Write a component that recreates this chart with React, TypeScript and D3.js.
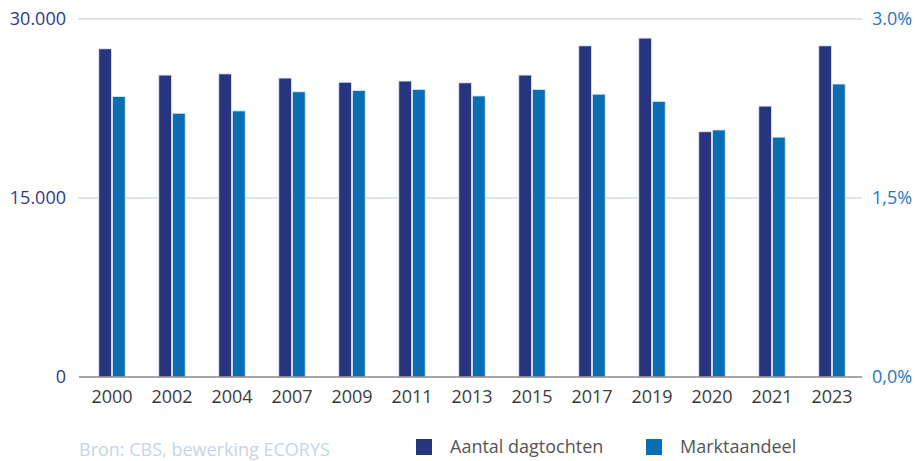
import { useEffect, useRef } from 'react';
import * as d3 from 'd3';

const width = 915;
const height = 461;
const [mt, mr, mb, ml] = [19, 53, 84, 82];
const plotRight = width - mr;
const plotBottom = height - mb;

const years = ['2000', '2002', '2004', '2007', '2009', '2011', '2013', '2015', '2017', '2019', '2020', '2021', '2023'];
const dagtochten = [27500, 25300, 25400, 25050, 24700, 24800, 24650, 25300, 27750, 28400, 20550, 22700, 27750];
const marktaandeel = [2.35, 2.21, 2.23, 2.39, 2.40, 2.41, 2.355, 2.41, 2.37, 2.31, 2.07, 2.01, 2.455];
const leftTicks = [0, 15000, 30000];
const leftTickLabels = ['0', '15.000', '30.000'];
const rightTickLabels = ['0,0%', '1,5%', '3.0%'];

const dark = '#27357e';
const light = '#0a6eb4';
const font = '"Open Sans", sans-serif';
const fs = 18;

export default function App() {
    const ref = useRef<SVGSVGElement>(null);

    useEffect(() => {
        const svg = d3.select(ref.current);
        svg.selectAll('*').remove();

        const x = d3.scaleBand().domain(years).range([ml, plotRight]).paddingInner(0.56).paddingOuter(0.28);
        const yl = d3.scaleLinear().domain([0, 30000]).range([plotBottom, mt]);
        const yr = d3.scaleLinear().domain([0, 3]).range([plotBottom, mt]);

        // gridlines
        svg.append('g')
            .selectAll('line')
            .data(leftTicks.slice(1))
            .join('line')
            .attr('x1', 78)
            .attr('x2', plotRight)
            .attr('y1', (d) => yl(d))
            .attr('y2', (d) => yl(d))
            .attr('stroke', '#d3dbe2')
            .attr('stroke-width', 1.5);

        const bw = x.bandwidth() / 2 - 0.5;

        svg.append('g')
            .selectAll('rect')
            .data(years)
            .join('rect')
            .attr('x', (d) => x(d)!)
            .attr('y', (_d, i) => yl(dagtochten[i]))
            .attr('width', bw)
            .attr('height', (_d, i) => plotBottom - yl(dagtochten[i]))
            .attr('fill', dark)
            .attr('stroke', '#e4e8f2')
            .attr('stroke-width', 0.8);

        svg.append('g')
            .selectAll('rect')
            .data(years)
            .join('rect')
            .attr('x', (d) => x(d)! + bw + 1)
            .attr('y', (_d, i) => yr(marktaandeel[i]))
            .attr('width', bw)
            .attr('height', (_d, i) => plotBottom - yr(marktaandeel[i]))
            .attr('fill', light)
            .attr('stroke', '#dfe9f4')
            .attr('stroke-width', 0.8);

        // baseline
        svg.append('line')
            .attr('x1', 79)
            .attr('x2', plotRight)
            .attr('y1', plotBottom)
            .attr('y2', plotBottom)
            .attr('stroke', '#8a8a8a')
            .attr('stroke-width', 1.5);

        // left labels
        svg.append('g')
            .selectAll('text')
            .data(leftTicks)
            .join('text')
            .attr('x', 66)
            .attr('y', (d) => yl(d))
            .attr('dy', '0.35em')
            .attr('text-anchor', 'end')
            .attr('font-family', font)
            .attr('font-size', fs)
            .attr('fill', '#2b3b8c')
            .text((_d, i) => leftTickLabels[i]);

        // right labels
        svg.append('g')
            .selectAll('text')
            .data([0, 1.5, 3])
            .join('text')
            .attr('x', 872)
            .attr('y', (d) => yr(d))
            .attr('dy', '0.35em')
            .attr('font-family', font)
            .attr('font-size', fs)
            .attr('fill', '#1f78c1')
            .text((_d, i) => rightTickLabels[i]);

        // year labels
        svg.append('g')
            .selectAll('text')
            .data(years)
            .join('text')
            .attr('x', (d) => x(d)! + x.bandwidth() / 2)
            .attr('y', 403)
            .attr('text-anchor', 'middle')
            .attr('font-family', font)
            .attr('font-size', fs)
            .attr('fill', '#3c3c3c')
            .text((d) => d);

        // source
        svg.append('text')
            .attr('x', 79)
            .attr('y', 456)
            .attr('font-family', font)
            .attr('font-size', fs)
            .attr('fill', '#c9d4df')
            .text('Bron: CBS, bewerking ECORYS');

        // legend
        const legend = [
            { label: 'Aantal dagtochten', color: dark, x: 416 },
            { label: 'Marktaandeel', color: light, x: 646 },
        ];
        const lg = svg.append('g').selectAll('g').data(legend).join('g');
        lg.append('rect')
            .attr('x', (d) => d.x)
            .attr('y', 439)
            .attr('width', 16)
            .attr('height', 16)
            .attr('fill', (d) => d.color);
        lg.append('text')
            .attr('x', (d) => d.x + 34)
            .attr('y', 453)
            .attr('font-family', font)
            .attr('font-size', fs)
            .attr('fill', '#555')
            .text((d) => d.label);
    }, []);

    return (
        <svg
            ref={ref}
            width={width}
            height={height}
            style={{ position: 'absolute', left: 0, top: 0, background: '#fff' }}
        />
    );
}
